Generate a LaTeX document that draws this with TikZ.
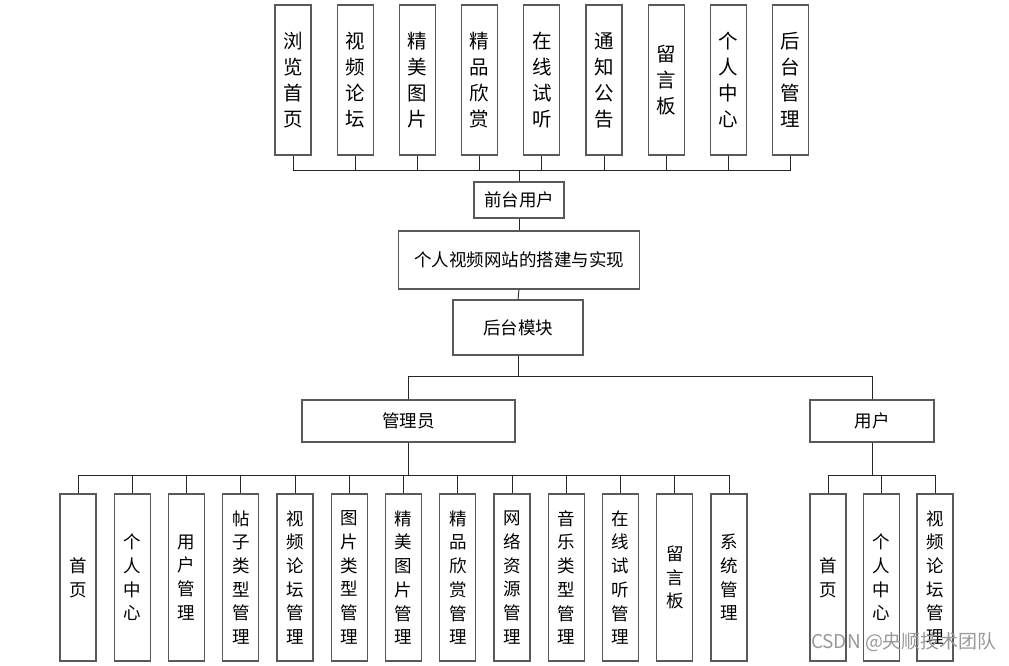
\documentclass[tikz,border=0pt]{standalone}
\usepackage{fontspec}
\newfontfamily\cjk{Noto Sans CJK SC}
\usetikzlibrary{positioning}

\begin{document}
\begin{tikzpicture}[x=1pt,y=-1pt,
        box/.style={draw=black!65,line width=1.1pt,rectangle,fill=white,inner sep=0pt,font=\cjk\fontsize{17.5}{20}\selectfont},
        vbox/.style={draw=black!65,line width=1.1pt,rectangle,fill=white,inner sep=0pt,minimum width=36,align=center},
        link/.style={draw=black!85,line width=0.9pt}]
        \useasboundingbox (0,0) rectangle (1009,665);

        % Front-end modules
        \foreach \t [count=\i] in {{浏\\览\\首\\页},{视\\频\\论\\坛},{精\\美\\图\\片},{精\\品\\欣\\赏},{在\\线\\试\\听},{通\\知\\公\\告},{留\\言\\板},{个\\人\\中\\心},{后\\台\\管\\理}} {
            \node[vbox,minimum height=150,font=\cjk\fontsize{19.5}{26}\selectfont] (f\i) at ({230.8+62.2*\i},80) {\t};
        }

        % Main column
        \node[box,minimum width=90,minimum height=36] (front) at (519,200) {前台用户};
        \node[box,minimum width=241,minimum height=58] (site) at (519,260) {个人视频网站的搭建与实现};
        \node[box,minimum width=130,minimum height=55] (back) at (518,327.5) {后台模块};

        % Roles
        \node[box,minimum width=213,minimum height=42] (admin) at (408.5,421) {管理员};
        \node[box,minimum width=124,minimum height=42] (user) at (872,421) {用户};

        % Admin modules
        \foreach \t [count=\i] in {{首\\页},{个\\人\\中\\心},{用\\户\\管\\理},{帖\\子\\类\\型\\管\\理},{视\\频\\论\\坛\\管\\理},{图\\片\\类\\型\\管\\理},{精\\美\\图\\片\\管\\理},{精\\品\\欣\\赏\\管\\理},{网\\络\\资\\源\\管\\理},{音\\乐\\类\\型\\管\\理},{在\\线\\试\\听\\管\\理},{留\\言\\板},{系\\统\\管\\理}} {
            \node[vbox,minimum height=167,font=\cjk\fontsize{17.5}{23.7}\selectfont] (a\i) at ({23.75+54.25*\i},577.5) {\t};
        }

        % User modules
        \foreach \t [count=\i] in {{首\\页},{个\\人\\中\\心},{视\\频\\论\\坛\\管\\理}} {
            \node[vbox,minimum height=167,font=\cjk\fontsize{17.5}{23.7}\selectfont] (u\i) at ({774.5+53.5*\i},577.5) {\t};
        }

        % Connectors
        \coordinate (fbus) at (519,170);
        \coordinate (rbus) at (518,376);
        \coordinate (abus) at (408.5,475);
        \coordinate (ubus) at (872,475);
        \foreach \i in {1,...,9} {
            \draw[link] (f\i.south) |- (fbus);
        }
        \draw[link] (front.north) -- (fbus);
        \draw[link] (front.south) -- (site.north);
        \draw[link] (site.south) -- (back.north);
        \draw[link] (back.south) -- (rbus);
        \draw[link] (admin.north) |- (rbus);
        \draw[link] (user.north) |- (rbus);
        \draw[link] (admin.south) -- (abus);
        \draw[link] (user.south) -- (ubus);
        \foreach \i in {1,...,13} {
            \draw[link] (a\i.north) |- (abus);
        }
        \foreach \i in {1,2,3} {
            \draw[link] (u\i.north) |- (ubus);
        }

        % Watermark
        \node[font=\cjk\fontsize{19}{22}\selectfont,text=black!40] (mark) at (904,642) {CSDN @央顺技术团队};
    \end{tikzpicture}
\end{document}
